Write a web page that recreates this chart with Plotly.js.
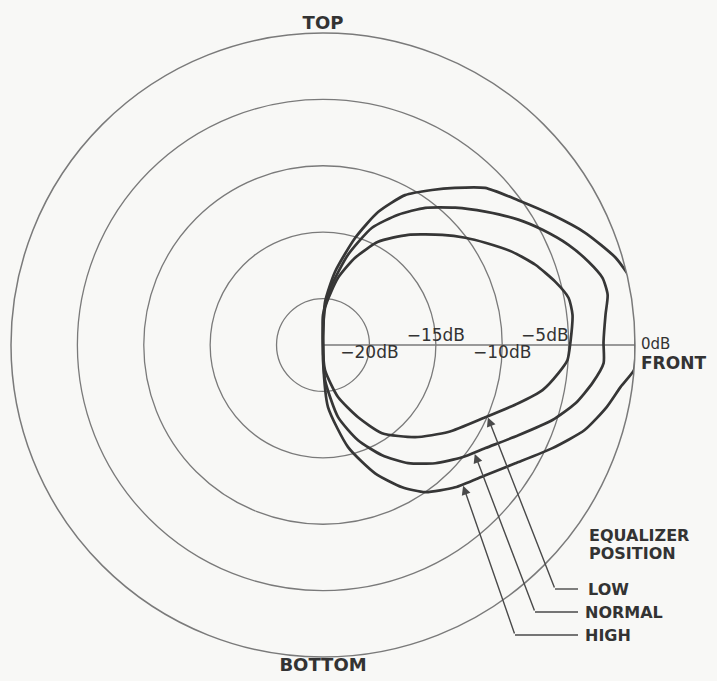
<!DOCTYPE html>
<html><head><meta charset="utf-8">
<script src="https://cdn.plot.ly/plotly-3.0.1.min.js"></script>
<style>html,body{margin:0;padding:0;background:#f8f8f6;} #chart{width:717px;height:681px;}</style>
</head><body><div id="chart"></div>
<script>
// ---- data (angles in degrees, 0 = FRONT, 90 = TOP; levels in dB) ----
const levelsDb = [-20, -15, -10, -5];
const levelLabels = ['\u221220dB', '\u221215dB', '\u221210dB', '\u22125dB'];
const fullScaleDb = 0;
const fullScaleLabel = '0dB';
const directionLabels = ['TOP', 'BOTTOM'];
const directionAngles = [90, -90];
const frontLabel = 'FRONT';
const seriesNames = ['LOW', 'NORMAL', 'HIGH'];
const legendTitle = ['EQUALIZER', 'POSITION'];

const thetaHigh = [90, 90, 87.3, 80.7, 73.3, 67.5, 61.3, 54.9, 50.0, 44.1, 36.6, 29.6, 23.1, 16.6, 12.2, 9.5, 5.4, 0.5, -2.2, -4.6, -8.0, -12.4, -18.0, -24.2, -31.6, -38.7, -47.1, -55.2, -60.9, -67.9, -76.2, -85.4, -90, -90];
const dbHigh = [-23.5, -22.9, -20.26, -17.93, -15.09, -12.66, -10.63, -9.23, -8.05, -6.5, -5.2, -3.65, -2.0, -0.5, 0.2, 0.45, 0.2, 0.05, 0.05, 0.0, -0.86, -1.64, -2.78, -4.55, -6.49, -7.82, -8.87, -10.0, -11.24, -13.07, -15.58, -18.81, -22.37, -23.5];

const thetaNormal = [90, 90, 81.5, 74.5, 67.3, 60.0, 53.3, 46.1, 39.4, 32.7, 27.7, 22.2, 17.4, 13.5, 10.0, 6.1, 0.6, -3.7, -8.0, -13.0, -18.1, -24.8, -32.4, -38.9, -46.5, -54.2, -61.8, -69.8, -78.2, -86.7, -90];
const dbNormal = [-23.5, -21.24, -18.92, -16.45, -13.93, -12.17, -10.61, -9.14, -7.68, -6.02, -4.83, -3.53, -2.54, -1.85, -1.73, -2.1, -2.37, -2.32, -3.0, -3.98, -5.31, -7.29, -9.01, -10.03, -11.22, -12.53, -14.08, -15.86, -17.95, -20.85, -23.5];

const thetaLow = [90, 86.9, 77.4, 69.8, 61.9, 52.3, 42.7, 37.0, 32.2, 26.2, 20.7, 15.2, 10.9, 6.9, 0.7, -3.5, -6.8, -11.6, -16.6, -24.0, -34.8, -45.0, -56.2, -64.1, -73.9, -85.4, -90];
const dbLow = [-23.5, -20.7, -18.32, -16.5, -14.69, -13.01, -11.27, -10.08, -9.05, -7.61, -6.4, -5.36, -4.67, -4.57, -4.86, -5.05, -5.64, -6.62, -8.15, -10.12, -12.01, -13.68, -15.51, -17.45, -19.42, -21.6, -23.5];

// angle on each curve where its pointer arrow lands
const pointerTheta = [-23.5, -35.5, -45];

// ---- layout geometry ----
const W = 717, H = 681;
const CX = 323, CY = 345, R = 312;
const RMIN = -23.5, RMAX = 0;
const INK = '#333333', GRID = '#7a7a7a';

const curves = [
  {name: seriesNames[0], th: thetaLow, db: dbLow},
  {name: seriesNames[1], th: thetaNormal, db: dbNormal},
  {name: seriesNames[2], th: thetaHigh, db: dbHigh}
];

const traces = curves.map(c => ({
  type: 'scatterpolar', mode: 'lines', name: c.name,
  r: c.db, theta: c.th, cliponaxis: false,
  line: {color: '#363636', width: 2.7, shape: 'spline', smoothing: 0.6},
  hoverinfo: 'skip'
}));

traces.push({
  type: 'scatterpolar', mode: 'text', r: levelsDb, theta: levelsDb.map(() => 0),
  text: levelLabels,
  textposition: ['bottom center', 'top center', 'bottom center', 'top left'],
  textfont: {family: 'DejaVu Sans', size: 17, color: INK},
  cliponaxis: false, hoverinfo: 'skip'
});
traces.push({
  type: 'scatterpolar', mode: 'text', r: directionAngles.map(() => RMAX), theta: directionAngles,
  text: directionLabels,
  textposition: ['top center', 'bottom center'],
  textfont: {family: 'DejaVu Sans', size: 18, weight: 'bold', color: INK},
  cliponaxis: false, hoverinfo: 'skip'
});

function interpDb(th, tArr, dArr) {
  for (let i = 0; i < tArr.length - 1; i++) {
    const a = tArr[i], b = tArr[i + 1];
    if ((th <= a && th >= b) && a !== b) {
      const f = (th - a) / (b - a);
      return dArr[i] + f * (dArr[i + 1] - dArr[i]);
    }
  }
  return dArr[0];
}
function toPx(th, db) {
  const rp = R * (db - RMIN) / (RMAX - RMIN);
  const a = th * Math.PI / 180;
  return [CX + rp * Math.cos(a), CY - rp * Math.sin(a)];
}

// leader-line bends (pixel positions) and label placements
const bends = [[555, 589], [535, 612], [515, 635]];
const labelX = [586, 583, 583];
const elbowEnd = 578;

const annotations = [];
const shapes = [];
curves.forEach((c, i) => {
  const tip = toPx(pointerTheta[i], interpDb(pointerTheta[i], c.th, c.db));
  const b = bends[i];
  annotations.push({
    xref: 'paper', yref: 'paper', x: tip[0] / W, y: 1 - tip[1] / H,
    text: '', showarrow: true, ax: b[0] - tip[0], ay: b[1] - tip[1],
    arrowhead: 2, arrowsize: 1.3, arrowwidth: 1.4, arrowcolor: '#4a4a4a', standoff: 1
  });
  shapes.push({
    type: 'line', xref: 'paper', yref: 'paper',
    x0: b[0] / W, y0: 1 - b[1] / H, x1: elbowEnd / W, y1: 1 - b[1] / H,
    line: {color: '#4a4a4a', width: 1.4}
  });
  annotations.push({
    xref: 'paper', yref: 'paper', x: labelX[i] / W, y: 1 - b[1] / H,
    xanchor: 'left', yanchor: 'middle', showarrow: false, text: c.name,
    font: {family: 'DejaVu Sans', size: 16, weight: 'bold', color: INK}
  });
});
legendTitle.forEach((t, i) => {
  annotations.push({
    xref: 'paper', yref: 'paper', x: 587 / W, y: 1 - (535 + i * 18.5) / H,
    xanchor: 'left', yanchor: 'middle', showarrow: false, text: t,
    font: {family: 'DejaVu Sans', size: 16, weight: 'bold', color: INK}
  });
});

// 0dB and FRONT labels stacked next to the full-scale point on the front axis
const fs = toPx(0, fullScaleDb);
annotations.push({
  xref: 'paper', yref: 'paper', x: fs[0] / W, y: 1 - fs[1] / H,
  xanchor: 'left', yanchor: 'top', xshift: 4, yshift: 12, showarrow: false, align: 'left',
  text: '<span style="font-size:15px">' + fullScaleLabel + '</span><br>' +
        '<span style="font-size:17px;font-weight:bold">' + frontLabel + '</span>',
  font: {family: 'DejaVu Sans', size: 15, color: INK}
});

const layout = {
  width: W, height: H,
  margin: {l: 0, r: 0, t: 0, b: 0},
  paper_bgcolor: '#f8f8f6',
  showlegend: false,
  polar: {
    domain: {x: [(CX - R) / W, (CX + R) / W], y: [(H - CY - R) / H, (H - CY + R) / H]},
    bgcolor: 'rgba(0,0,0,0)',
    radialaxis: {
      range: [RMIN, RMAX], tickvals: levelsDb, showticklabels: false, ticks: '',
      showline: true, linecolor: GRID, linewidth: 1.4, gridcolor: GRID, gridwidth: 1.3, angle: 0,
      layer: 'below traces'
    },
    angularaxis: {
      showgrid: false, showticklabels: false, ticks: '', showline: true,
      linecolor: GRID, linewidth: 1.5, rotation: 0, direction: 'counterclockwise'
    }
  },
  shapes: shapes,
  annotations: annotations
};

Plotly.newPlot('chart', traces, layout, {staticPlot: true});
</script>
</body></html>
